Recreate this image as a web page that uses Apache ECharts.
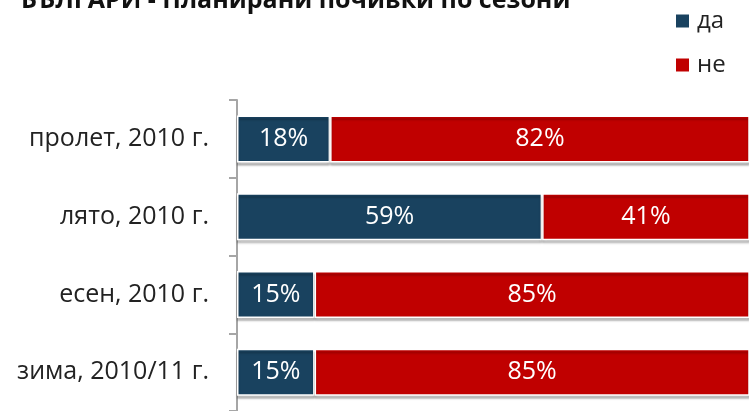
<!DOCTYPE html>
<html><head><meta charset="utf-8">
<script src="https://cdn.jsdelivr.net/npm/echarts@6/dist/echarts.min.js"></script>
<style>html,body{margin:0;padding:0;background:#fff}#c{width:749px;height:411px}</style>
</head><body><div id="c"></div>
<script>
const categories = ['пролет, 2010 г.', 'лято, 2010 г.', 'есен, 2010 г.', 'зима, 2010/11 г.'];
const seriesNames = ['да', 'не'];
const yesValues = [18, 59, 15, 15];
const noValues = [82, 41, 85, 85];
const titleText = 'БЪЛГАРИ - Планирани почивки по сезони';

const chart = echarts.init(document.getElementById('c'));
const barStyle = (color) => ({
  color: color,
  borderColor: '#ffffff',
  borderWidth: 1.5,
  shadowColor: 'rgba(0,0,0,0.25)',
  shadowOffsetY: 3,
  shadowBlur: 2
});
const lbl = {
  show: true, position: 'inside', color: '#ffffff',
  fontFamily: 'Open Sans', fontSize: 25,
  formatter: p => p.value + '%'
};
chart.setOption({
  animation: false,
  title: {
    text: titleText, left: 16, top: -17,
    textStyle: { fontFamily: 'Open Sans', fontWeight: 'bold', fontSize: 25, color: '#111' }
  },
  legend: {
    orient: 'vertical', left: 669, top: 0, itemWidth: 15, itemHeight: 15, itemGap: 12,
    icon: 'rect',
    textStyle: { fontFamily: 'Open Sans', fontSize: 24, color: '#222', padding: [0, 0, 0, 2], lineHeight: 32 },
    data: seriesNames
  },
  grid: { left: 237, right: 0, top: 100, bottom: -1, containLabel: false },
  xAxis: { type: 'value', min: 0, max: 99, show: false },
  yAxis: {
    type: 'category', data: categories, inverse: true,
    axisLine: { show: true, lineStyle: { color: '#a6a6a6', width: 2 } },
    axisTick: { show: true, length: 8, lineStyle: { color: '#a6a6a6', width: 2 } },
    axisLabel: { fontFamily: 'Open Sans', fontSize: 25, color: '#222', margin: 28 }
  },
  series: [
    { name: seriesNames[0], type: 'bar', stack: 's', barWidth: 47, data: yesValues, itemStyle: barStyle('#19425f'), label: lbl },
    { name: seriesNames[1], type: 'bar', stack: 's', barWidth: 47, data: noValues, itemStyle: barStyle('#c00000'), label: lbl }
  ]
});
</script></body></html>
